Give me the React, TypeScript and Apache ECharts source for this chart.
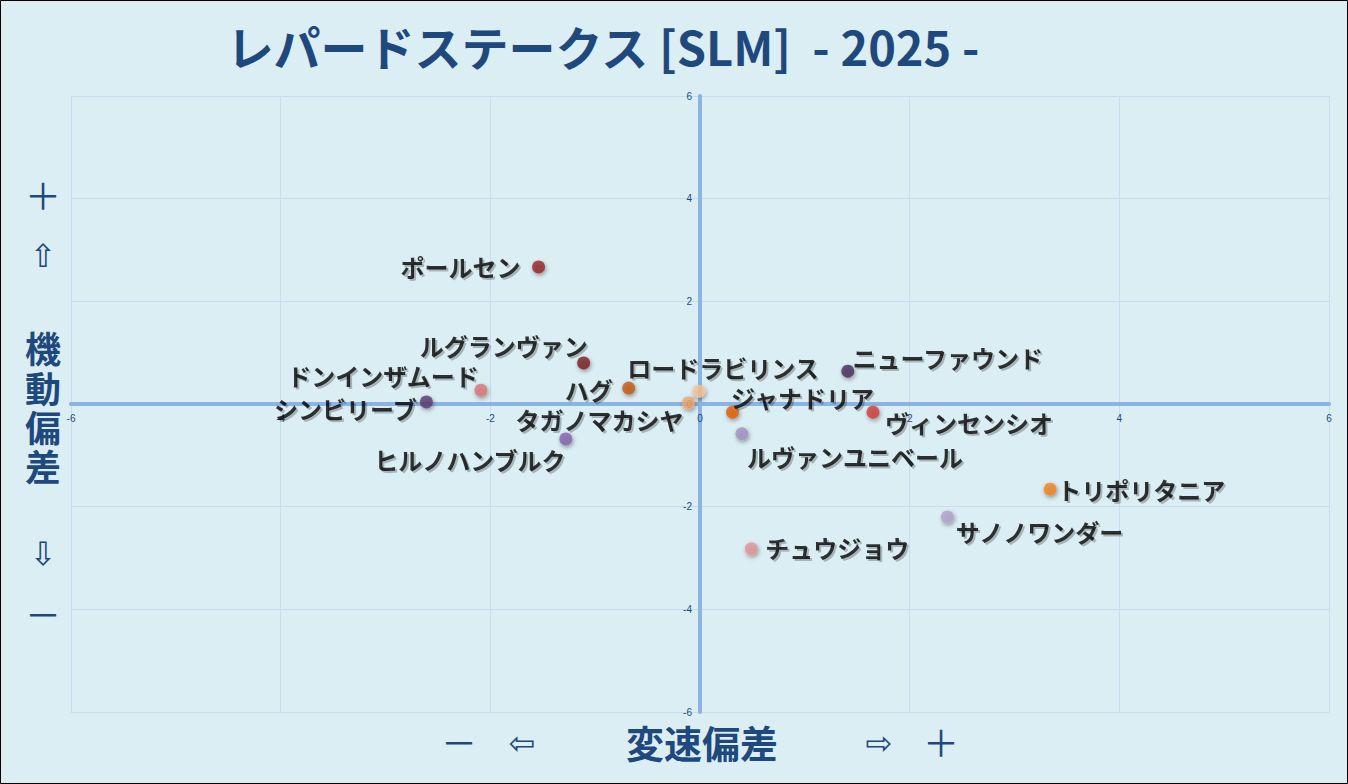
import React, { useEffect, useRef } from 'react';
import * as echarts from 'echarts';

const horseNames = [
  'ポールセン', 'ルグランヴァン', 'ドンインザムード', 'シンビリーブ', 'ハグ',
  'タガノマカシヤ', 'ヒルノハンブルク', 'ロードラビリンス', 'ジャナドリア', 'ニューファウンド',
  'ヴィンセンシオ', 'ルヴァンユニベール', 'トリポリタニア', 'サノノワンダー', 'チュウジョウ',
];
// 変速偏差 (x)
const speedDeviation = [-1.54, -1.11, -2.09, -2.61, -0.68, -0.11, -1.28, -0.01, 0.31, 1.41, 1.65, 0.40, 3.34, 2.36, 0.49];
// 機動偏差 (y)
const mobilityDeviation = [2.67, 0.80, 0.27, 0.04, 0.31, 0.02, -0.68, 0.25, -0.16, 0.64, -0.16, -0.58, -1.66, -2.20, -2.82];
const pointColors = [
  '#962727', '#7a1f1f', '#d97676', '#5b3b72', '#c4580c',
  '#f2a56c', '#8663ad', '#f8c294', '#e25c06', '#4b2d5c',
  '#d23b3b', '#a38ec4', '#f3831f', '#b3a3c9', '#e29393',
];
const axisTicks = { min: -6, max: 6, interval: 2 };

// label placement (text centre relative to the dot), styling only
const labelOffsets: Record<string, [number, number]> = {
  'ポールセン': [-78, 0],
  'ルグランヴァン': [-80, -17],
  'ドンインザムード': [-98, -15],
  'シンビリーブ': [-81, 7],
  'ハグ': [-40, 1],
  'タガノマカシヤ': [-89, 17],
  'ヒルノハンブルク': [-96, 21],
  'ロードラビリンス': [24, -24],
  'ジャナドリア': [70, -15],
  'ニューファウンド': [100, -14],
  'ヴィンセンシオ': [96, 10],
  'ルヴァンユニベール': [113, 23],
  'トリポリタニア': [91, 0],
  'サノノワンダー': [92, 15],
  'チュウジョウ': [86, -1],
};

const NAVY = '#1f497d';
const JP = '"Noto Sans CJK JP", "Noto Sans", sans-serif';
const ARROW = '"DejaVu Sans", "Noto Sans CJK JP", sans-serif';

const GRID = { left: 71, right: 19, top: 96, bottom: 72 };
const W = 1348;
const H = 784;

export default function App() {
  const ref = useRef<HTMLDivElement>(null);
  useEffect(() => {
    document.body.style.margin = '0';
    const chart = echarts.init(ref.current!, null, { renderer: 'svg' });
    const data = horseNames.map((name, i) => ({
      name,
      value: [speedDeviation[i], mobilityDeviation[i]],
      itemStyle: { color: pointColors[i] },
      label: { offset: labelOffsets[name] || [0, 0] },
    }));
    const plotW = W - GRID.left - GRID.right;
    const plotH = H - GRID.top - GRID.bottom;
    // zero lies in the middle of the symmetric range; shift axes onto it
    const zeroFracX = (0 - axisTicks.min) / (axisTicks.max - axisTicks.min);
    const xAxisShift = -plotH * zeroFracX;
    const yAxisShift = -plotW * zeroFracX;
    const axisCommon = {
      type: 'value',
      min: axisTicks.min,
      max: axisTicks.max,
      interval: axisTicks.interval,
      axisLine: { onZero: false, lineStyle: { color: '#8db3e2', width: 4 } },
      axisTick: { show: false },
      splitLine: { show: true, lineStyle: { color: '#c9dcef', width: 1 } },
    };
    const bigText = (text: string, x: number, y: number, size: number, family = JP, weight: any = 'bold') => ({
      type: 'text',
      x,
      y,
      style: {
        text,
        fill: NAVY,
        font: `${weight} ${size}px ${family}`,
        align: 'center',
        verticalAlign: 'middle',
      },
    });
    chart.setOption({
      animation: false,
      backgroundColor: '#dbeef4',
      grid: GRID,
      xAxis: {
        ...axisCommon,
        position: 'bottom',
        offset: xAxisShift,
        axisLabel: { fontSize: 10, color: NAVY, margin: 9, fontFamily: 'Liberation Sans, sans-serif' },
      },
      yAxis: {
        ...axisCommon,
        position: 'left',
        offset: yAxisShift,
        axisLabel: { fontSize: 10, color: NAVY, margin: 8, fontFamily: 'Liberation Sans, sans-serif' },
      },
      series: [
        {
          type: 'scatter',
          symbolSize: 13,
          data,
          itemStyle: {
            shadowBlur: 4,
            shadowColor: 'rgba(0,0,0,0.45)',
            shadowOffsetX: 1,
            shadowOffsetY: 2,
          },
          label: {
            show: true,
            position: 'inside',
            formatter: '{b}',
            color: '#000',
            fontSize: 24,
            fontWeight: 'bold',
            fontFamily: JP,
            textShadowColor: 'rgba(0,0,0,0.3)',
            textShadowBlur: 1,
            textShadowOffsetX: 2,
            textShadowOffsetY: 2,
          },
          z: 5,
        },
      ],
      graphic: [
        {
          type: 'rect',
          shape: { x: 0.5, y: 0.5, width: 1347, height: 783 },
          style: { fill: 'none', stroke: '#000', lineWidth: 1 },
          z: 100,
        },
        bigText('レパードステークス [SLM]  - 2025 -', 603, 45, 47),
        bigText('＋', 43, 194, 36, JP, 'normal'),
        bigText('⇧', 43, 256, 32, ARROW, 'normal'),
        bigText('機', 43, 347, 36),
        bigText('動', 43, 387, 36),
        bigText('偏', 43, 426, 36),
        bigText('差', 43, 465, 36),
        bigText('⇩', 43, 554, 32, ARROW, 'normal'),
        bigText('－', 43, 613, 36, JP, 'normal'),
        bigText('－', 459, 741, 36, JP, 'normal'),
        bigText('⇦', 522, 743, 32, ARROW, 'normal'),
        bigText('変速偏差', 702, 741, 38),
        bigText('⇨', 879, 743, 32, ARROW, 'normal'),
        bigText('＋', 941, 741, 36, JP, 'normal'),
      ],
    });
    return () => chart.dispose();
  }, []);
  return <div ref={ref} style={{ width: W, height: H }} />;
}
